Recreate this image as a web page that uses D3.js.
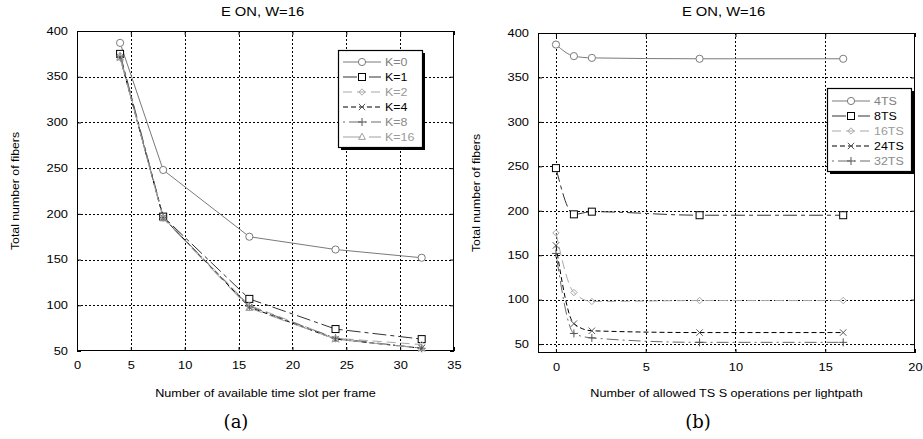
<!DOCTYPE html>
<html>
<head>
<meta charset="utf-8">
<script src="https://cdn.jsdelivr.net/npm/d3@7"></script>
<style>
  html, body { margin: 0; padding: 0; background: #fff; }
  svg { display: block; font-family: "Liberation Sans", Arial, sans-serif; }
</style>
</head>
<body>
<svg id="fig" width="923" height="439"></svg>
<script>
// ---- Panel (a): fibers vs. time slots per frame ----
const slotsX = [4, 8, 16, 24, 32];
const kNames = ["K=0", "K=1", "K=2", "K=4", "K=8", "K=16"];
const k0  = [387, 248, 175, 161, 152];
const k1  = [375, 197, 107, 74, 63];
const k2  = [373, 196, 100, 64, 57];
const k4  = [371, 196, 98, 63, 53];
const k8  = [372, 196, 99, 64, 53];
const k16 = [371, 195, 97, 63, 53];
const xTicksA = [0, 5, 10, 15, 20, 25, 30, 35];
const yTicks = [50, 100, 150, 200, 250, 300, 350, 400];

// ---- Panel (b): fibers vs. allowed TSS operations ----
const opsX = [0, 1, 2, 8, 16];
const tsNames = ["4TS", "8TS", "16TS", "24TS", "32TS"];
const ts4  = [387, 374, 372, 371, 371];
const ts8  = [248, 196, 199, 195, 195];
const ts16 = [175, 108, 98, 99, 99];
const ts24 = [161, 73, 65, 63, 63];
const ts32 = [152, 62, 57, 52, 52];
const xTicksB = [0, 5, 10, 15, 20];

const svg = d3.select("#fig");

// line/marker looks
const styles = {
  circle:  { line: "#7a7a7a", mark: "#7a7a7a", dash: null,        text: "#808080" },
  square:  { line: "#333",    mark: "#000",    dash: "14,4,4,4",  text: "#000" },
  diamond: { line: "#a8a8a8", mark: "#a8a8a8", dash: "9,5",       text: "#9a9a9a" },
  cross:   { line: "#000",    mark: "#555",    dash: "5,3",       text: "#000" },
  plus:    { line: "#6a6a6a", mark: "#555",    dash: "2,4,12,4",  text: "#8a8a8a" },
  tri:     { line: "#a0a0a0", mark: "#a0a0a0", dash: "18,8",      text: "#9a9a9a" }
};

// the figure's sans text is set wide: stretch glyphs horizontally about their anchor
function stretch(sel, sx) {
  sel.each(function () {
    const t = d3.select(this);
    const x = +t.attr("x") || 0, y = +t.attr("y") || 0;
    t.attr("x", null).attr("y", null)
      .attr("transform", `translate(${x},${y}) scale(${sx},1)`);
  });
}

function marker(g, shape, x, y, color) {
  const s = g.append("g").attr("transform", `translate(${x},${y})`)
    .attr("fill", "none").attr("stroke", color).attr("stroke-width", 1);
  if (shape === "circle") s.append("circle").attr("r", 3.6).attr("fill", "#fff");
  else if (shape === "square") s.append("rect").attr("x", -3.5).attr("y", -3.5).attr("width", 7).attr("height", 7).attr("fill", "#fff");
  else if (shape === "diamond") s.append("path").attr("d", "M0,-3.2L3.2,0L0,3.2L-3.2,0Z");
  else if (shape === "cross") s.append("path").attr("d", "M-3.2,-3.2L3.2,3.2M-3.2,3.2L3.2,-3.2");
  else if (shape === "plus") s.append("path").attr("d", "M-4,0L4,0M0,-4L0,4");
  else if (shape === "tri") s.append("path").attr("d", "M0,-3.8L3.4,2.4L-3.4,2.4Z");
}

function panel(cfg) {
  const x = d3.scaleLinear().domain(cfg.xDomain).range([cfg.left, cfg.right]);
  const y = d3.scaleLinear().domain(cfg.yDomain).range([cfg.bottom, cfg.top]);
  const g = svg.append("g");

  // dotted grid
  const grid = g.append("g").attr("stroke", "#000").attr("stroke-width", 1)
    .attr("stroke-dasharray", "2,2");
  cfg.xTicks.forEach(t => {
    const px = Math.round(x(t)) + 0.5;
    if (px > cfg.left + 1 && px < cfg.right - 1)
      grid.append("line").attr("x1", px).attr("x2", px).attr("y1", cfg.top).attr("y2", cfg.bottom);
  });
  yTicks.forEach(t => {
    const py = Math.round(y(t)) + 0.5;
    if (py > cfg.top + 1 && py < cfg.bottom - 1)
      grid.append("line").attr("x1", cfg.left).attr("x2", cfg.right).attr("y1", py).attr("y2", py);
  });

  // axes with inward ticks on all sides
  const axB = d3.axisBottom(x).tickValues(cfg.xTicks).tickSizeInner(-4).tickSizeOuter(0).tickPadding(11);
  const axL = d3.axisLeft(y).tickValues(yTicks).tickSizeInner(-4).tickSizeOuter(0).tickPadding(9);
  const axT = d3.axisTop(x).tickValues(cfg.xTicks).tickSizeInner(-4).tickSizeOuter(0).tickFormat("");
  const axR = d3.axisRight(y).tickValues(yTicks).tickSizeInner(-4).tickSizeOuter(0).tickFormat("");
  [[axB, `translate(0,${cfg.bottom})`], [axL, `translate(${cfg.left},0)`],
   [axT, `translate(0,${cfg.top})`], [axR, `translate(${cfg.right},0)`]].forEach(([ax, tr]) => {
    const a = g.append("g").attr("transform", tr).call(ax);
    a.selectAll(".domain").remove();
    const tx = a.selectAll("text").attr("font-size", 10.2).attr("fill", "#000")
      .attr("font-family", "Liberation Sans, Arial, sans-serif");
    stretch(tx, 1.26);
    a.selectAll("line").attr("stroke", "#000");
  });
  g.append("rect").attr("x", cfg.left + 0.5).attr("y", cfg.top + 0.5)
    .attr("width", cfg.right - cfg.left - 1).attr("height", cfg.bottom - cfg.top - 1)
    .attr("fill", "none").attr("stroke", "#000").attr("stroke-width", 1);

  // series
  const line = d3.line().x(d => x(d[0])).y(d => y(d[1])).curve(cfg.curve);
  cfg.series.forEach(s => {
    const st = styles[s.shape];
    const pts = cfg.xs.map((v, i) => [v, s.values[i]]);
    g.append("path").attr("d", line(pts)).attr("fill", "none")
      .attr("stroke", st.line).attr("stroke-width", 1)
      .attr("stroke-dasharray", st.dash);
  });
  cfg.series.forEach(s => {
    const st = styles[s.shape];
    cfg.xs.forEach((v, i) => marker(g, s.shape, x(v), y(s.values[i]), st.mark));
  });

  // titles and labels
  const cx = (cfg.left + cfg.right) / 2;
  stretch(g.append("text").attr("x", cx - 3).attr("y", 16).attr("text-anchor", "middle")
    .attr("font-size", 12.3).text("E ON, W=16"), 1.2);
  stretch(g.append("text").attr("x", cx).attr("y", 396.5).attr("text-anchor", "middle")
    .attr("font-size", 11.5).text(cfg.xLabel), 1.1);
  g.append("text")
    .attr("transform", `translate(${cfg.left - 58},${(cfg.top + cfg.bottom) / 2}) rotate(-90) scale(1.07,1)`)
    .attr("text-anchor", "middle").attr("font-size", 11.5).text("Total number of fibers");
  g.append("text").attr("x", cfg.tagX).attr("y", 428).attr("text-anchor", "middle")
    .attr("font-family", "DejaVu Serif, Liberation Serif, serif").attr("font-size", 18)
    .text(cfg.tag);

  // legend
  const L = cfg.legend;
  const lg = g.append("g");
  lg.append("rect").attr("x", L.x + 3).attr("y", L.y + 3).attr("width", L.w).attr("height", L.h).attr("fill", "#000");
  lg.append("rect").attr("x", L.x + 0.5).attr("y", L.y + 0.5).attr("width", L.w).attr("height", L.h)
    .attr("fill", "#fff").attr("stroke", "#000").attr("stroke-width", 1.2);
  cfg.series.forEach((s, i) => {
    const st = styles[s.shape];
    const ry = L.y + L.row0 + i * 15;
    lg.append("line").attr("x1", L.x + 5).attr("x2", L.x + 43).attr("y1", ry).attr("y2", ry)
      .attr("stroke", st.line).attr("stroke-dasharray", st.dash);
    marker(lg, s.shape, L.x + 24, ry, st.mark);
    stretch(lg.append("text").attr("x", L.x + 47).attr("y", ry + 4.2).attr("font-size", 11.3)
      .attr("fill", st.text).text(s.name), 1.1);
  });
}

const shapesA = ["circle", "square", "diamond", "cross", "plus", "tri"];
const seriesA = [k0, k1, k2, k4, k8, k16].map((v, i) => ({ name: kNames[i], values: v, shape: shapesA[i] }));
panel({
  left: 77, right: 454, top: 31, bottom: 351,
  xDomain: [0, 35], yDomain: [50, 400], xTicks: xTicksA,
  xs: slotsX, series: seriesA, curve: d3.curveLinear,
  xLabel: "Number of available time slot per frame",
  tag: "(a)", tagX: 236,
  legend: { x: 338, y: 50, w: 84, h: 97, row0: 12 }
});

const shapesB = ["circle", "square", "diamond", "cross", "plus"];
const seriesB = [ts4, ts8, ts16, ts24, ts32].map((v, i) => ({ name: tsNames[i], values: v, shape: shapesB[i] }));
panel({
  left: 538, right: 915, top: 33, bottom: 353,
  xDomain: [-1, 20], yDomain: [40, 400], xTicks: xTicksB,
  xs: opsX, series: seriesB, curve: d3.curveMonotoneX,
  xLabel: "Number of allowed TS S operations per lightpath",
  tag: "(b)", tagX: 698,
  legend: { x: 827, y: 88, w: 84, h: 83, row0: 13 }
});
</script>
</body>
</html>
